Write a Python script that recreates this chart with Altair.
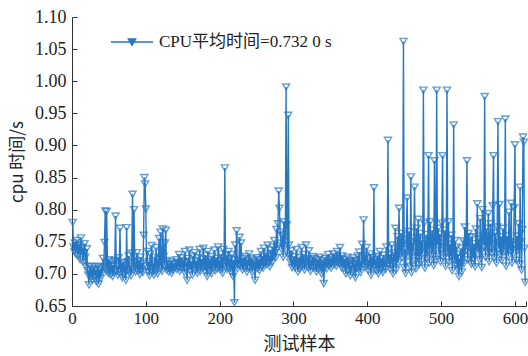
import altair as alt
import pandas as pd

# CPU time per test sample (thousandths of a second)
seg_001_100 = [780, 742, 735, 748, 731, 744, 752, 728, 738, 745,
               722, 756, 735, 741, 718, 733, 747, 726, 712, 739,
               705, 698, 683, 712, 701, 695, 708, 690, 703, 711,
               697, 706, 688, 700, 712, 684, 699, 707, 693, 710,
               702, 724, 711, 749, 798, 705, 797, 716, 701, 722,
               708, 699, 719, 712, 696, 714, 702, 721, 790, 705,
               712, 698, 725, 707, 771, 703, 716, 694, 709, 718,
               700, 713, 690, 772, 706, 719, 728, 702, 711, 697,
               732, 824, 708, 800, 718, 703, 714, 733, 705, 720,
               711, 699, 726, 707, 716, 702, 760, 850, 840, 801]
seg_101_200 = [712, 735, 704, 719, 697, 731, 710, 744, 703, 715,
               698, 726, 708, 741, 712, 700, 723, 755, 709, 765,
               718, 704, 770, 727, 713, 748, 768, 706, 721, 711,
               703, 715, 708, 719, 701, 712, 706, 716, 709, 714,
               722, 707, 718, 711, 730, 704, 716, 725, 709, 720,
               713, 702, 735, 718, 708, 690, 724, 712, 737, 706,
               719, 710, 698, 728, 715, 733, 706, 720, 711, 701,
               725, 712, 738, 704, 716, 723, 709, 740, 717, 705,
               729, 711, 696, 735, 718, 704, 722, 713, 700, 727,
               710, 719, 737, 705, 716, 724, 708, 742, 712, 720]
seg_201_300 = [706, 731, 714, 701, 738, 720, 865, 712, 728, 707,
               718, 735, 709, 724, 703, 730, 712, 696, 722, 655,
               745, 714, 767, 708, 721, 716, 757, 712, 748, 719,
               706, 724, 715, 710, 727, 718, 703, 721, 712, 731,
               709, 716, 723, 702, 714, 720, 711, 690, 717, 725,
               708, 713, 722, 705, 718, 735, 712, 726, 709, 740,
               716, 722, 731, 714, 745, 720, 728, 711, 737, 724,
               718, 742, 727, 752, 733, 725, 769, 740, 778, 829,
               802, 765, 748, 738, 760, 726, 781, 742, 757, 991,
               776, 731, 947, 745, 728, 718, 736, 710, 722, 715]
seg_301_400 = [727, 709, 716, 738, 720, 703, 714, 725, 708, 719,
               741, 712, 730, 722, 706, 716, 745, 718, 724, 710,
               736, 715, 704, 721, 713, 727, 709, 718, 724, 711,
               703, 716, 722, 708, 714, 726, 712, 700, 717, 721,
               685, 710, 724, 716, 708, 719, 730, 713, 722, 717,
               709, 725, 718, 731, 714, 721, 727, 712, 735, 719,
               724, 716, 741, 722, 710, 728, 717, 709, 723, 714,
               700, 718, 726, 706, 715, 721, 697, 712, 708, 719,
               725, 703, 716, 694, 721, 710, 728, 707, 734, 713,
               702, 719, 746, 715, 784, 723, 710, 728, 741, 716]
seg_401_500 = [706, 720, 712, 731, 698, 717, 725, 709, 834, 714,
               722, 705, 718, 727, 700, 713, 735, 708, 724, 716,
               702, 729, 712, 719, 707, 742, 721, 908, 715, 730,
               708, 724, 745, 712, 700, 733, 719, 771, 706, 726,
               758, 717, 802, 729, 742, 763, 725, 748, 1062, 710,
               738, 701, 760, 818, 727, 745, 766, 712, 851, 702,
               748, 733, 756, 835, 720, 708, 771, 727, 785, 714,
               742, 763, 719, 752, 731, 986, 779, 709, 738, 761,
               724, 746, 884, 717, 781, 752, 729, 768, 741, 713,
               876, 757, 722, 986, 745, 771, 731, 762, 719, 748]
seg_501_614 = [779, 884, 725, 741, 768, 712, 754, 986, 733, 781,
               718, 746, 727, 760, 705, 737, 932, 721, 752, 715,
               742, 708, 731, 696, 724, 712, 740, 703, 729, 751,
               716, 773, 735, 748, 876, 722, 763, 741, 757, 727,
               715, 758, 732, 724, 747, 711, 770, 736, 809, 740,
               754, 722, 786, 735, 710, 800, 759, 744, 976, 726,
               771, 747, 733, 794, 719, 756, 778, 740, 732, 806,
               884, 725, 764, 748, 717, 773, 937, 739, 808, 730,
               758, 721, 746, 771, 734, 752, 941, 712, 759, 740,
               727, 796, 748, 736, 810, 717, 750, 732, 803, 901,
               744, 721, 759, 737, 778, 715, 835, 750, 706, 769,
               913, 905, 740, 687]

series_name = "CPU平均时间=0.732 0 s"
x_label_ticks = [0, 100, 200, 300, 400, 500, 600]
x_all_ticks = [0, 100, 200, 300, 400, 500, 600, 615]
y_ticks = [0.65, 0.70, 0.75, 0.80, 0.85, 0.90, 0.95, 1.00, 1.05, 1.10]

values = (seg_001_100 + seg_101_200 + seg_201_300 + seg_301_400
          + seg_401_500 + seg_501_614)
df = pd.DataFrame({
    "sample": list(range(1, len(values) + 1)),
    "cpu": [v / 1000 for v in values],
    "series": [series_name] * len(values),
})

BLUE = "#2778c4"
SERIF = "Liberation Serif, Noto Sans CJK SC, serif"
CJK = "Noto Sans CJK SC, Liberation Serif, serif"
AX = "#333333"

xscale = alt.Scale(domain=[0, 615], nice=False, zero=False)
yscale = alt.Scale(domain=[0.65, 1.10], nice=False, zero=False)

line = alt.Chart(df).mark_line(strokeWidth=1.4, color=BLUE).encode(
    x=alt.X("sample:Q", scale=xscale,
            axis=alt.Axis(values=x_label_ticks, title="测试样本", ticks=False,
                          grid=False, labelFont=SERIF, labelFontSize=17,
                          labelColor="#222222", titleFont=CJK, titleFontSize=18,
                          titleFontWeight="normal", titleColor="#222222",
                          domainColor=AX, labelPadding=4, titlePadding=9,
                          labelFlush=False)),
    y=alt.Y("cpu:Q", scale=yscale,
            axis=alt.Axis(values=y_ticks, format=".2f", title="cpu 时间/s",
                          ticks=False, grid=False, labelFont=SERIF,
                          labelFontSize=18, labelColor="#222222",
                          titleFont=CJK, titleFontSize=17,
                          titleFontWeight="normal", titleColor="#222222",
                          domainColor=AX, labelPadding=6, titlePadding=8)),
    color=alt.Color("series:N",
                    scale=alt.Scale(domain=[series_name], range=[BLUE]),
                    legend=alt.Legend(
                        title=None, orient="none", legendX=38, legendY=3,
                        symbolType="M-1,0L1,0M-0.17,-0.14L0.17,-0.14L0,0.15Z",
                        symbolSize=1764, symbolStrokeWidth=1.5,
                        symbolStrokeColor=BLUE, symbolFillColor=BLUE,
                        labelFont=SERIF, labelFontSize=17, labelLimit=0,
                        labelColor="#222222", labelOffset=5, padding=0)),
)

points = alt.Chart(df).mark_point(
    shape="triangle-down", filled=False, size=50, strokeWidth=1.4, color=BLUE
).encode(
    x=alt.X("sample:Q", scale=xscale,
            axis=alt.Axis(values=x_all_ticks, orient="bottom", offset=-5,
                          tickSize=5, tickColor=AX, labels=False, domain=False,
                          grid=False, title=None)),
    y=alt.Y("cpu:Q", scale=yscale,
            axis=alt.Axis(values=y_ticks, orient="left", offset=-5,
                          tickSize=5, tickColor=AX, labels=False, domain=False,
                          grid=False, title=None)),
)

chart = alt.layer(line, points).resolve_axis(
    x="independent", y="independent"
).properties(
    width=454, height=289,
    autosize=alt.AutoSizeParams(type="none"),
    padding={"left": 72, "top": 17, "right": 2, "bottom": 50},
).configure_view(stroke=None)

chart.save("out.html", embed_options={"renderer": "svg", "actions": False})
